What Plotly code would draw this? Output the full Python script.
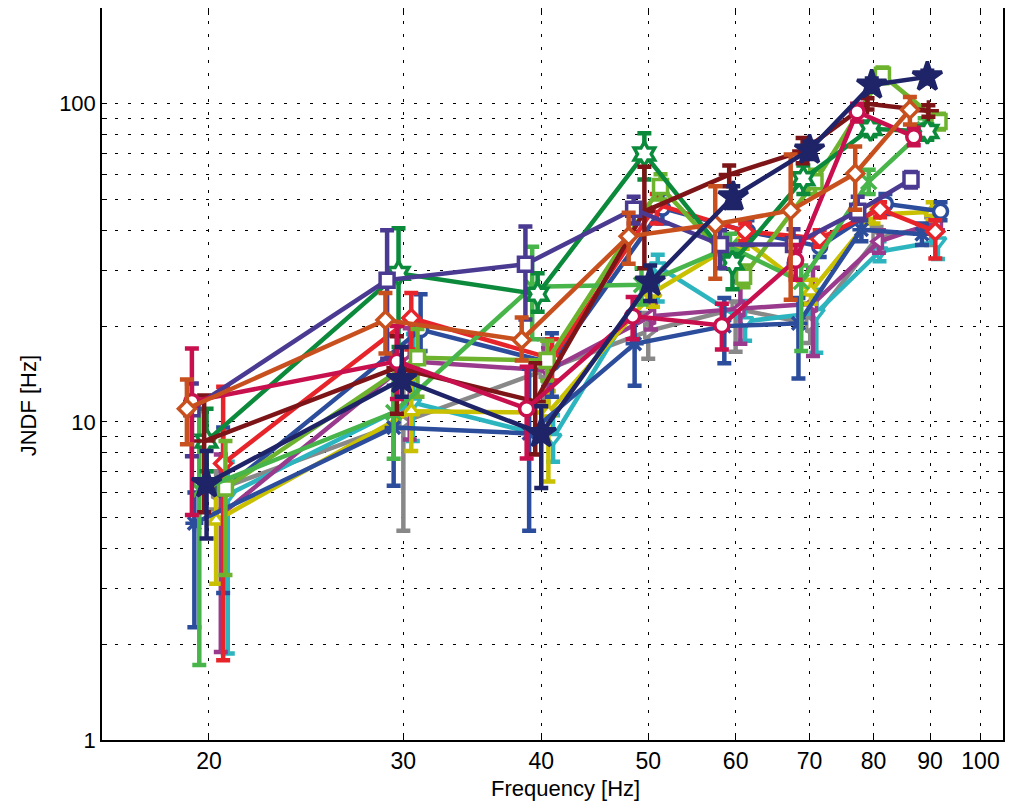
import math
import plotly.graph_objects as go

# ---- data ----
orange_x = [19.1, 28.9, 38.4, 48.0, 57.5, 67.3, 77.0, 86.3]
orange_y = [11.0, 20.9, 18.1, 38.3, 41.8, 46.2, 60.4, 95.8]
orange_hi = [13.6, 25.4, 21.3, 45.4, 55.0, 69.3, 73.4, 105]
orange_lo = [8.5, 16.4, 15.6, 31.4, 28.2, 24.2, 46.4, 86]

purple_x = [19.3, 29.0, 38.7, 48.5, 58.1, 67.7, 77.4, 86.5]
purple_y = [11.0, 27.9, 31.3, 46.6, 36.1, 36.1, 45.9, 57.8]
purple_hi = [13.2, 40.0, 41.1, 51.0, 40.0, 40.3, 51.0, 61]
purple_lo = [7.8, 15.8, 21.0, 42.0, 30.4, 31.4, 43.0, 54.5]

crimson_x = [19.3, 29.6, 38.8, 48.4, 58.3, 68.0, 77.3, 87.0]
crimson_y = [11.6, 15.5, 11.0, 21.5, 20.1, 32.2, 94.4, 78.8]
crimson_hi = [17.0, 20.0, 14.9, 24.7, 23.5, 36, 100, 84]
crimson_lo = [5.1, 11.8, 7.67, 18.2, 16.9, 28, 88, 74]

maroon_x = [19.8, 29.6, 39.5, 49.6, 59.2, 69.0, 79.0, 89.7]
maroon_y = [8.7, 14.8, 11.6, 45.9, 59.9, 71.0, 100, 95]
maroon_hi = [12.1, 18.6, 15.3, 63.4, 64, 78, 104, 99]
maroon_lo = [5.2, 10.6, 7.9, 30.4, 55, 65, 96, 91]

navy_x = [19.9, 29.9, 40.0, 50.2, 59.7, 70.0, 79.7, 89.5]
navy_y = [6.4, 13.6, 9.2, 27.5, 51, 71.6, 114.6, 121.5]
navy_hi = [8.1, 17.2, 11.2, 31, 55, 76, 120, 127]
navy_lo = [4.3, 12.0, 6.2, 24, 47, 67, 109, 116]

dgreen_x = [19.9, 29.7, 39.7, 49.6, 59.6, 69.1, 79.5, 89.5]
dgreen_y = [8.7, 29.3, 25.2, 69.5, 31.6, 58.1, 83.5, 81.8]
dgreen_hi = [11, 40.6, 29.3, 80.8, 33.7, 64, 88, 86]
dgreen_lo = [7, 17.2, 22.2, 57.8, 26.1, 52, 79, 77]

mgreen_x = [19.6, 29.4, 39.25, 49.3, 59.3, 68.8, 79.2, 89.0]
mgreen_y = [6.1, 10.7, 26.6, 27.0, 35.5, 27.6, 56.9, 83]
mgreen_hi = [10.8, 13.9, 35.5, 30.4, 39, 31, 62, 90]
mgreen_lo = [1.72, 7.66, 18.2, 23.4, 32, 16.7, 52, 77]

ygreen_x = [20.7, 30.9, 40.5, 51.3, 61.0, 70.8, 81.5, 91.7]
ygreen_y = [6.2, 15.9, 15.6, 54.9, 28.7, 56.9, 123, 88]
ygreen_hi = [8.7, 19.6, 18, 60, 31, 62, 130, 93]
ygreen_lo = [3.3, 12.0, 13.5, 50, 26.5, 52, 116, 83]

yellow_x = [20.3, 30.5, 40.6, 50.5, 60.9, 70.2, 80.0, 90.5]
yellow_y = [4.9, 10.8, 10.7, 25.5, 37.6, 25.7, 44.8, 45.8]
yellow_hi = [6.6, 13.7, 12.5, 28, 40, 28, 48, 49]
yellow_lo = [3.1, 8.1, 6.5, 23, 35, 23.5, 42, 43]

gray_x = [20.3, 30.0, 40.2, 50.0, 60.0, 70.1, 80.5, 90.2]
gray_y = [6.1, 10.0, 14.5, 19.3, 22.7, 20.3, 37.7, 41.2]
gray_hi = [7.0, 13.7, 18.2, 22, 23.9, 23.5, 41, 44]
gray_lo = [5.3, 4.55, 11.5, 15.8, 16.6, 17.7, 34.5, 36]

cyan_x = [20.8, 30.6, 41.0, 51.0, 61.2, 71.0, 81.0, 91.5]
cyan_y = [5.9, 11.5, 8.9, 30.8, 20.7, 22.0, 34.3, 36.9]
cyan_hi = [7.5, 18.9, 10.5, 33.5, 24, 26, 37, 40]
cyan_lo = [1.87, 8.7, 7.5, 23.9, 18, 16.5, 32, 32.5]

red_x = [20.6, 30.5, 40.9, 50.9, 61.2, 71.5, 81.1, 91.0]
red_y = [7.4, 21.2, 15.8, 48.3, 39.7, 37.7, 46.6, 39.7]
red_hi = [12.9, 25.4, 18.2, 52, 42, 40, 49, 43]
red_lo = [1.78, 16.9, 13.5, 42, 37, 35.5, 44, 32.6]

blue_x = [20.6, 31.1, 40.9, 51.5, 61.5, 71.5, 82.0, 92.0]
blue_y = [6.1, 19.5, 15.3, 47, 39.7, 35.6, 48.5, 45.9]
blue_hi = [9.6, 25.2, 19.0, 52, 43, 38, 52, 49]
blue_lo = [2.9, 16.7, 12, 42, 36, 33, 45, 43]

blue2_x = [19.4, 29.4, 39.0, 48.6, 58.6, 68.4, 78.0, 88.5]
blue2_y = [4.8, 9.6, 9.2, 17.6, 20.0, 20.4, 40.2, 38.9]
blue2_hi = [6.0, 13.0, 14.7, 22, 24.5, 24.5, 43, 42]
blue2_lo = [2.26, 6.3, 4.55, 13.0, 15.3, 13.7, 37, 36]

magenta_x = [20.5, 30.4, 40.6, 50.3, 60.6, 70.5, 80.9, 91.5]
magenta_y = [5.1, 15.5, 14.5, 21.5, 22.7, 23.5, 36.9, 42.6]
magenta_hi = [7.9, 19.7, 17, 23.5, 27.6, 30.5, 40, 45]
magenta_lo = [1.89, 8.8, 12.5, 19.5, 17.6, 16.1, 34, 40]

x_ticks = [20, 30, 40, 50, 60, 70, 80, 90, 100]
y_major = [1, 10, 100]

# ---- figure ----
series = [
    # (x, y, hi, lo, color, symbol, filled)
    (gray_x, gray_y, gray_hi, gray_lo, "#888888", "triangle-right", False),
    (cyan_x, cyan_y, cyan_hi, cyan_lo, "#2CB5BF", "triangle-down", False),
    (magenta_x, magenta_y, magenta_hi, magenta_lo, "#993A8D", "triangle-left", False),
    (yellow_x, yellow_y, yellow_hi, yellow_lo, "#C8C000", "triangle-up", False),
    (blue_x, blue_y, blue_hi, blue_lo, "#2C4C9C", "circle", False),
    (blue2_x, blue2_y, blue2_hi, blue2_lo, "#2C4C9C", "asterisk", False),
    (red_x, red_y, red_hi, red_lo, "#E8242B", "diamond", False),
    (ygreen_x, ygreen_y, ygreen_hi, ygreen_lo, "#6DB32E", "square", False),
    (mgreen_x, mgreen_y, mgreen_hi, mgreen_lo, "#47B54A", "x-thin", False),
    (dgreen_x, dgreen_y, dgreen_hi, dgreen_lo, "#0B8A3B", "hexagram", False),
    (maroon_x, maroon_y, maroon_hi, maroon_lo, "#7D1518", "cross-thin", False),
    (purple_x, purple_y, purple_hi, purple_lo, "#4B3A92", "square", False),
    (crimson_x, crimson_y, crimson_hi, crimson_lo, "#C8104E", "circle", False),
    (orange_x, orange_y, orange_hi, orange_lo, "#C8501E", "diamond", False),
    (navy_x, navy_y, navy_hi, navy_lo, "#1F2468", "star", True),
]

fig = go.Figure()
for xs, ys, hi, lo, col, sym, filled in series:
    plus = [h - v for h, v in zip(hi, ys)]
    minus = [v - l for v, l in zip(ys, lo)]
    size = 14
    if sym == "diamond":
        size = 13
    elif sym == "star":
        size = 22
    elif sym == "hexagram":
        size = 18
    elif sym in ("x-thin", "cross-thin", "asterisk"):
        size = 15
    fig.add_trace(go.Scatter(
        x=xs, y=ys, mode="lines+markers",
        line=dict(color=col, width=4.5),
        marker=dict(symbol=sym, size=size,
                    color=col if filled else "white",
                    line=dict(color=col, width=3.5)),
        error_y=dict(type="data", symmetric=False, array=plus, arrayminus=minus,
                     color=col, thickness=4.5, width=7),
        showlegend=False,
    ))

y_grid = [m * d for d in (1, 10, 100) for m in range(1, 10)] + [200]
y_text = [str(v) if v in y_major else "" for v in y_grid]

fig.update_xaxes(
    type="log", range=[math.log10(16), math.log10(104.8)],
    tickvals=x_ticks, ticktext=[str(v) for v in x_ticks],
    ticks="inside", ticklen=7, tickwidth=1, tickcolor="black",
    showgrid=True, gridcolor="black", gridwidth=1, griddash="3px,10px",
    showline=True, linecolor="black", linewidth=1.5, mirror="ticks",
    zeroline=False,
    tickfont=dict(family="Liberation Sans Narrow, Arial Narrow, Liberation Sans, Arial", size=23, color="black"),
)
fig.update_yaxes(
    type="log", range=[0, math.log10(200)],
    tickvals=y_grid, ticktext=y_text,
    ticks="inside", ticklen=5, tickwidth=1, tickcolor="black",
    showgrid=True, gridcolor="black", gridwidth=1, griddash="3px,10px",
    showline=True, linecolor="black", linewidth=1.5, mirror="ticks",
    zeroline=False,
    tickfont=dict(family="Liberation Sans, Arial", size=22, color="black"),
)

# page body has an 8px margin; size and margins compensate for it
fig.update_layout(
    width=1002, height=796,
    margin=dict(l=94, r=7, t=0, b=64, autoexpand=False),
    paper_bgcolor="white", plot_bgcolor="white",
    annotations=[
        dict(text="Frequency [Hz]", xref="paper", yref="paper", x=0.514, y=-0.066,
             xanchor="center", yanchor="middle", showarrow=False,
             font=dict(family="Liberation Sans Narrow, Arial Narrow, Liberation Sans, Arial", size=22, color="black")),
        dict(text="JNDF [Hz]", xref="paper", yref="paper", x=-0.082, y=0.456,
             xanchor="center", yanchor="middle", showarrow=False, textangle=-90,
             font=dict(family="Liberation Sans Narrow, Arial Narrow, Liberation Sans, Arial", size=22, color="black")),
    ],
)

fig.write_html("out.html")
